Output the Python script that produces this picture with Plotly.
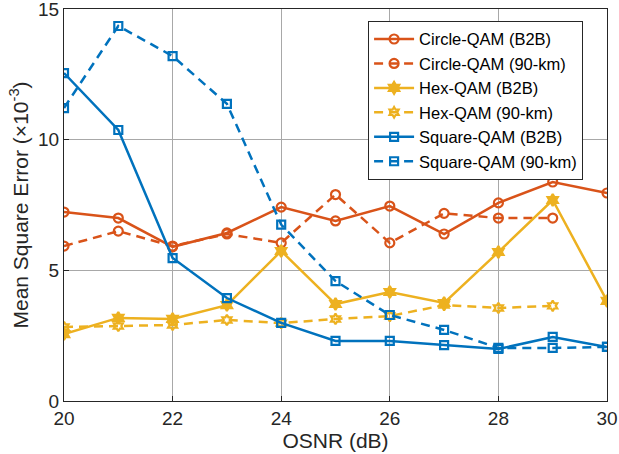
import plotly.graph_objects as go

osnr = [20, 21, 22, 23, 24, 25, 26, 27, 28, 29, 30]

circle_b2b = [7.23, 7.0, 5.9, 6.43, 7.42, 6.89, 7.46, 6.39, 7.58, 8.38, 7.96]
circle_90 = [5.93, 6.5, 5.93, 6.39, 6.05, 7.9, 6.05, 7.18, 7.0, 7.0, None]
hex_b2b = [2.56, 3.18, 3.14, 3.67, 5.74, 3.71, 4.17, 3.75, 5.7, 7.69, 3.83]
hex_90 = [2.83, 2.87, 2.91, 3.1, 2.98, 3.14, 3.25, 3.67, 3.56, 3.64, None]
square_b2b = [12.55, 10.37, 5.47, 3.94, 2.99, 2.3, 2.3, 2.14, 1.99, 2.45, 2.07]
square_90 = [11.21, 14.35, 13.2, 11.37, 6.75, 4.59, 3.29, 2.72, 2.03, 2.03, 2.07]

BLUE = "#0072BD"
ORANGE = "#D95319"
YELLOW = "#EDB120"

series = [
    ("Circle-QAM (B2B)", circle_b2b, ORANGE, "solid", "circle-open", 9),
    ("Circle-QAM (90-km)", circle_90, ORANGE, "9px,6px", "circle-open", 9),
    ("Hex-QAM (B2B)", hex_b2b, YELLOW, "solid", "hexagram", 9),
    ("Hex-QAM (90-km)", hex_90, YELLOW, "9px,6px", "hexagram-open", 8),
    ("Square-QAM (B2B)", square_b2b, BLUE, "solid", "square-open", 8),
    ("Square-QAM (90-km)", square_90, BLUE, "9px,6px", "square-open", 8),
]

fig = go.Figure()
for name, ys, color, dash, sym, size in series:
    fig.add_trace(go.Scatter(
        x=osnr, y=ys, name=name, mode="lines+markers",
        line=dict(color=color, width=2.5, dash=dash),
        marker=dict(symbol=sym, size=size, color=color, line=dict(width=2.2, color=color)),
        connectgaps=False,
    ))

FONT = "Liberation Sans, Arial, Helvetica"

axis_common = dict(
    showline=True, linecolor="#262626", linewidth=1.2, mirror=True,
    ticks="inside", ticklen=5, tickcolor="#262626",
    showgrid=True, gridcolor="#a8a8a8", gridwidth=1,
    zeroline=False, ticklabeloverflow="allow",
    tickfont=dict(family=FONT, size=19, color="#262626"),
)

fig.update_layout(
    width=619, height=454,
    margin=dict(l=64, r=12, t=9, b=53, autoexpand=False),
    paper_bgcolor="white", plot_bgcolor="white",
    font=dict(family=FONT, color="#262626"),
    xaxis=dict(range=[20, 30], dtick=2, tick0=20,
               title=dict(text="OSNR (dB)", font=dict(size=21), standoff=2),
               **axis_common),
    yaxis=dict(range=[0, 15], dtick=5, tick0=0,
               title=dict(text="Mean Square Error (×10<sup>-3</sup>)", font=dict(size=21), standoff=3),
               **axis_common),
    legend=dict(
        x=0.56, y=0.97, xanchor="left", yanchor="top",
        bgcolor="white", bordercolor="#262626", borderwidth=1,
        font=dict(family=FONT, size=16.5, color="#000000"),
        tracegroupgap=0, itemwidth=40,
    ),
    showlegend=True,
)

fig.write_html("out.html")
